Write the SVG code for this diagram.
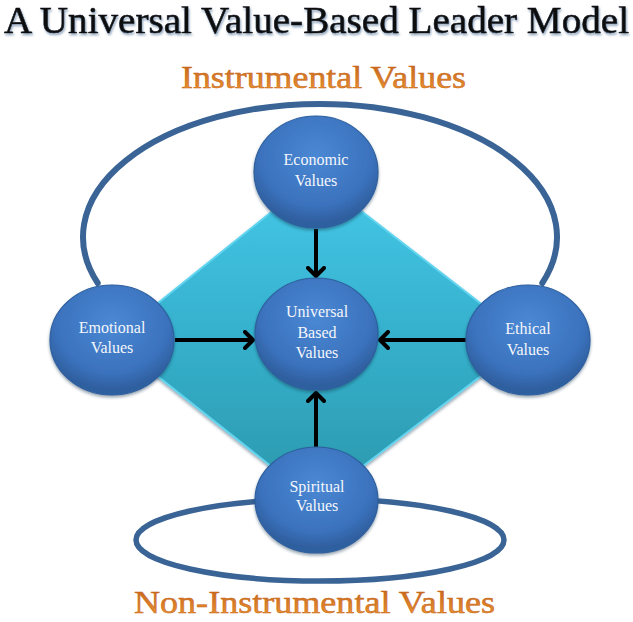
<svg xmlns="http://www.w3.org/2000/svg" width="633" height="622" viewBox="0 0 633 622">
<defs>
<style>
.title{font-family:"Liberation Serif","Times New Roman",serif;font-size:38px;fill:#111;stroke:#111;stroke-width:0.6}
.sub{font-family:"Liberation Serif","Times New Roman",serif;font-size:31px;fill:url(#orange);stroke:#c8671c;stroke-width:0.5}
.lbl{font-family:"Liberation Serif","Times New Roman",serif;font-size:16px;fill:#f4f6fb;text-anchor:middle}
.node{fill:url(#blue);stroke:#2d5f9e;stroke-width:1.2;filter:url(#shadow)}
.ring{fill:none;stroke:#3a6496;stroke-linecap:round}
.arrow{fill:none;stroke:#000;stroke-width:4;marker-end:url(#chev)}
</style>
<radialGradient id="blue" cx="0.5" cy="0.35" r="0.6">
<stop offset="0" stop-color="#4a88d4"/>
<stop offset="0.75" stop-color="#3b72bd"/>
<stop offset="1" stop-color="#2f5f9f"/>
</radialGradient>
<linearGradient id="cyan" x1="0" y1="0" x2="0" y2="1">
<stop offset="0" stop-color="#45c8e8"/>
<stop offset="0.5" stop-color="#35b0cc"/>
<stop offset="1" stop-color="#2b97ab"/>
</linearGradient>
<linearGradient id="orange" x1="0" y1="0" x2="0" y2="1">
<stop offset="0" stop-color="#bf5e18"/>
<stop offset="1" stop-color="#f09a35"/>
</linearGradient>
<filter id="shadow" x="-20%" y="-20%" width="140%" height="150%">
<feDropShadow dx="0" dy="2" stdDeviation="1.5" flood-color="#1c3050" flood-opacity="0.45"/>
</filter>
<filter id="tshadow" x="-5%" y="-20%" width="110%" height="160%">
<feDropShadow dx="1" dy="2" stdDeviation="1.2" flood-color="#4a6a90" flood-opacity="0.6"/>
</filter>
<marker id="chev" markerUnits="userSpaceOnUse" viewBox="0 0 12 20" refX="10" refY="10" markerWidth="12" markerHeight="20" orient="auto">
<path d="M2,2 L10,10 L2,18" fill="none" stroke="#000" stroke-width="4" stroke-linecap="round" stroke-linejoin="round"/>
</marker>
</defs>
<rect width="633" height="622" fill="#fff"/>

<g id="texts">
<text class="title" x="4" y="33" textLength="625" lengthAdjust="spacingAndGlyphs" filter="url(#tshadow)">A Universal Value-Based Leader Model</text>
<text class="sub" x="181" y="88" textLength="285" lengthAdjust="spacingAndGlyphs">Instrumental Values</text>
<text class="sub" x="134" y="613" textLength="361" lengthAdjust="spacingAndGlyphs">Non-Instrumental Values</text>
</g>

<g id="rings">
<path class="ring" stroke-width="6" d="M 97.7 283 A 237 133 0 1 1 542.3 283"/>
<ellipse class="ring" stroke-width="5.5" cx="320" cy="540" rx="184" ry="41"/>
</g>

<g id="diamond">
<polygon points="316,176 528,340 316,502 112,340" fill="url(#cyan)" stroke="#62d4ef" stroke-width="2" stroke-linejoin="round" filter="url(#shadow)"/>
</g>

<g id="connectors">
<line class="arrow" x1="316" y1="229" x2="316" y2="276"/>
<line class="arrow" x1="175" y1="340" x2="253" y2="340"/>
<line class="arrow" x1="467" y1="340" x2="380" y2="340"/>
<line class="arrow" x1="316" y1="447" x2="316" y2="393"/>
</g>

<g id="node-economic">
<ellipse class="node" cx="316" cy="172" rx="62" ry="56"/>
<text class="lbl" x="316" y="165">Economic</text>
<text class="lbl" x="316" y="186">Values</text>
</g>

<g id="node-emotional">
<ellipse class="node" cx="112" cy="340" rx="62" ry="55"/>
<text class="lbl" x="112" y="333">Emotional</text>
<text class="lbl" x="112" y="353">Values</text>
</g>

<g id="node-ethical">
<ellipse class="node" cx="528" cy="340" rx="62" ry="55"/>
<text class="lbl" x="528" y="334">Ethical</text>
<text class="lbl" x="528" y="355">Values</text>
</g>

<g id="node-universal">
<ellipse class="node" cx="316.5" cy="334" rx="61.5" ry="56"/>
<text class="lbl" x="317" y="317">Universal</text>
<text class="lbl" x="317" y="338">Based</text>
<text class="lbl" x="317" y="358">Values</text>
</g>

<g id="node-spiritual">
<ellipse class="node" cx="316.5" cy="500" rx="61.5" ry="53"/>
<text class="lbl" x="317" y="492">Spiritual</text>
<text class="lbl" x="317" y="511">Values</text>
</g>
</svg>
